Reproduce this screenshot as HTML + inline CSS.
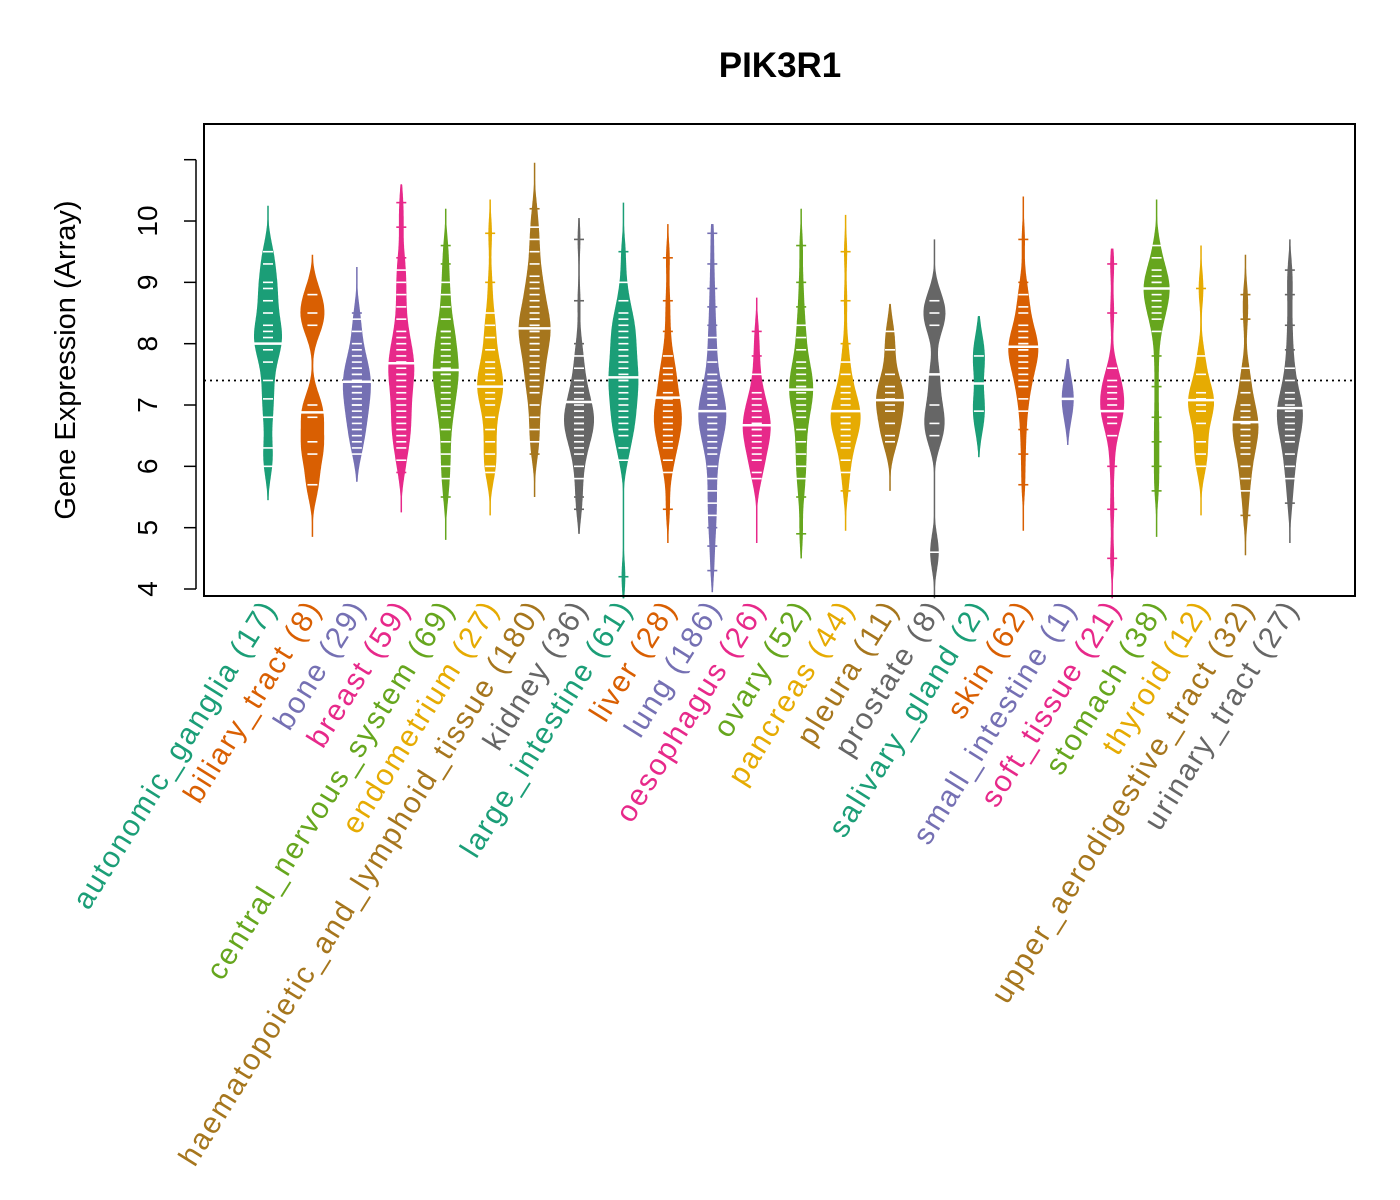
<!DOCTYPE html>
<html><head><meta charset="utf-8"><style>
body{margin:0;background:#fff}
svg{display:block;font-family:"Liberation Sans",Arial,sans-serif}
</style></head><body>
<svg id="chart" width="1400" height="1200" viewBox="0 0 1400 1200" xmlns="http://www.w3.org/2000/svg">
<rect x="0" y="0" width="1400" height="1200" fill="#fff"/>
<text x="780" y="77" font-size="35" font-weight="bold" text-anchor="middle">PIK3R1</text>
<text transform="translate(75,360) rotate(-90)" font-size="29" text-anchor="middle">Gene Expression (Array)</text>
<g id="beans"></g>
<g id="yaxis"></g>
<g id="xlabels"></g>
<rect x="204" y="124" width="1151" height="472" fill="none" stroke="#000" stroke-width="2"/>
</svg>
<script>
const categories=["autonomic_ganglia","biliary_tract","bone","breast","central_nervous_system","endometrium","haematopoietic_and_lymphoid_tissue","kidney","large_intestine","liver","lung","oesophagus","ovary","pancreas","pleura","prostate","salivary_gland","skin","small_intestine","soft_tissue","stomach","thyroid","upper_aerodigestive_tract","urinary_tract"];
const counts=[17,8,29,59,69,27,180,36,61,28,186,26,52,44,11,8,2,62,1,21,38,12,32,27];
const medians=[8.0,6.88,7.38,7.68,7.57,7.3,8.25,7.05,7.45,7.12,6.9,6.67,7.25,6.9,7.08,7.5,7.35,7.95,7.1,6.9,8.9,7.08,6.72,6.95];
const tailMin=[5.45,4.85,5.75,5.25,4.8,5.2,5.5,4.9,3.85,4.75,3.95,4.75,4.5,4.95,5.6,3.85,6.15,4.95,6.35,3.85,4.85,5.2,4.55,4.75];
const tailMax=[10.25,9.45,9.25,10.6,10.2,10.35,10.95,10.05,10.3,9.95,9.95,8.75,10.2,10.1,8.65,9.7,8.45,10.4,7.75,9.55,10.35,9.6,9.45,9.7];
const samples=[
[9.5,9.3,9.0,8.9,8.7,8.5,8.3,8.2,8.1,8.0,7.9,7.7,7.4,7.1,6.8,6.3,6.0],
[8.8,8.5,8.3,7.0,6.8,6.4,6.2,5.7],
[8.5,8.4,8.2,8.0,7.9,7.8,7.7,7.6,7.5,7.5,7.4,7.4,7.3,7.3,7.2,7.2,7.1,7.0,7.0,6.9,6.8,6.8,6.7,6.6,6.5,6.4,6.3,6.2,7.6],
[10.3,9.9,9.4,9.2,9.0,8.8,8.6,8.4,8.2,8.0,7.9,7.8,7.7,7.6,7.5,7.4,7.3,7.2,7.1,7.0,6.9,6.8,6.7,6.6,6.5,6.4,6.3,6.1,5.9,7.7,7.5,8.1],
[9.6,9.3,9.0,8.8,8.6,8.4,8.2,8.1,8.0,7.9,7.8,7.7,7.6,7.5,7.4,7.3,7.2,7.1,7.0,6.9,6.8,6.6,6.4,6.2,6.0,5.8,5.5,7.6,7.5,8.2],
[9.8,9.0,8.5,8.3,8.1,7.9,7.7,7.6,7.5,7.4,7.3,7.2,7.1,7.0,6.8,6.6,6.4,6.2,6.0,5.9,7.3],
[10.2,9.9,9.7,9.5,9.3,9.1,9.0,8.9,8.8,8.7,8.6,8.5,8.4,8.3,8.3,8.2,8.2,8.1,8.0,7.9,7.8,7.7,7.6,7.5,7.4,7.3,7.2,7.0,6.8,6.6,6.4,6.2,8.4,8.0],
[9.7,8.7,8.0,7.8,7.6,7.4,7.3,7.2,7.1,7.0,6.9,6.9,6.8,6.7,6.6,6.6,6.5,6.4,6.3,6.2,6.0,5.8,5.5,5.3,6.7,6.8],
[9.5,9.0,8.7,8.5,8.4,8.3,8.2,8.0,7.9,7.8,7.7,7.6,7.5,7.4,7.3,7.2,7.1,7.0,6.9,6.8,6.7,6.6,6.5,6.3,6.1,4.2,7.4,8.1],
[9.4,8.7,8.2,7.8,7.6,7.5,7.4,7.2,7.1,7.0,6.9,6.8,6.7,6.6,6.5,6.4,6.3,6.1,5.9,5.3,6.8],
[9.8,9.3,8.9,8.6,8.3,8.1,7.9,7.7,7.5,7.4,7.3,7.2,7.1,7.0,6.9,6.9,6.8,6.7,6.6,6.5,6.4,6.3,6.2,6.0,5.8,5.6,5.4,5.2,5.0,4.7,4.3,6.8,7.0,6.6],
[8.2,7.8,7.5,7.2,7.1,7.0,6.9,6.8,6.7,6.6,6.5,6.4,6.3,6.2,6.1,5.9,5.8,6.6,6.7],
[9.6,9.0,8.6,8.3,8.1,7.9,7.7,7.6,7.5,7.4,7.3,7.2,7.1,7.0,6.9,6.8,6.6,6.4,6.2,6.0,5.8,5.5,4.9,7.3],
[9.5,8.7,8.0,7.7,7.5,7.3,7.2,7.1,7.0,6.9,6.8,6.8,6.7,6.6,6.5,6.4,6.3,6.1,5.9,5.6,6.9,6.7],
[8.2,7.9,7.5,7.3,7.2,7.1,7.0,6.9,6.7,6.5,6.4],
[8.7,8.5,8.3,7.5,7.0,6.7,6.5,4.6],
[7.8,6.9],
[9.7,9.0,8.8,8.6,8.5,8.3,8.2,8.1,8.0,7.9,7.9,7.8,7.7,7.6,7.5,7.4,7.3,7.1,6.9,6.6,6.2,5.7,8.0,7.9],
[7.1],
[9.3,8.5,7.6,7.4,7.3,7.2,7.1,7.0,6.9,6.8,6.7,6.5,6.0,5.3,4.5],
[9.6,9.4,9.2,9.1,9.0,8.9,8.8,8.7,8.6,8.5,8.4,8.2,7.8,7.3,6.8,6.4,6.0,5.6,9.0,8.9],
[8.9,7.8,7.5,7.2,7.1,7.0,6.9,6.7,6.4,6.2,6.0,7.1],
[8.8,8.4,7.6,7.4,7.2,7.0,6.9,6.8,6.7,6.6,6.5,6.4,6.3,6.2,6.0,5.8,5.6,5.2,6.7],
[9.2,8.8,8.3,7.9,7.6,7.4,7.2,7.1,7.0,6.9,6.8,6.7,6.6,6.5,6.4,6.2,6.0,5.8,5.4,6.9]
];
const peakW=[14,12,14,13,13,13,16,15,15,14,14,14,12,15,14,11,6,15,6,12,13,13,13,13];
const yTicks=[4,5,6,7,8,9,10,11];
const yTickLabels=["4","5","6","7","8","9","10",""];
const overallMean=7.4;

const pal=["#1B9E77","#D95F02","#7570B3","#E7298A","#66A61E","#E6AB02","#A6761D","#666666"];
const NS="http://www.w3.org/2000/svg";
function yS(v){return 589-(v-4)*61.33;}
function xS(i){return 268+i*44.43;}
function mk(tag,attrs,parent){const e=document.createElementNS(NS,tag);for(const k in attrs)e.setAttribute(k,attrs[k]);parent.appendChild(e);return e;}
const beans=document.getElementById('beans');
const yaxis=document.getElementById('yaxis');
const xl=document.getElementById('xlabels');

const ax=mk('line',{x1:196,x2:196,y1:yS(4),y2:yS(11),stroke:'#000','stroke-width':1.5},yaxis);


yTicks.forEach((t,k)=>{
  const tk=mk('line',{x1:184,x2:196,y1:yS(t),y2:yS(t),stroke:'#000','stroke-width':1.5},yaxis);
  
  
  if(yTickLabels[k]){
    const tl=mk('text',{transform:`translate(157,${yS(t)}) rotate(-90)`,'font-size':28,'text-anchor':'middle'},yaxis);
    tl.textContent=yTickLabels[k];
    
    
  }
});

const ml=mk('line',{x1:204,x2:1355,y1:yS(overallMean),y2:yS(overallMean),stroke:'#000','stroke-width':1.8,'stroke-dasharray':'2,4'},beans);



categories.forEach((c,i)=>{
  const col=pal[i%8], cx=xS(i), vals=samples[i];
  const g=mk('g',{},beans);
  
  
  const tail=mk('line',{x1:cx,x2:cx,y1:yS(tailMin[i]),y2:yS(tailMax[i]),stroke:col,'stroke-width':1.5},g);
  
  
  const bw=vals.length<5?0.35:0.28;
  const lo=Math.max(tailMin[i],Math.min(...vals)-0.8), hi=Math.min(tailMax[i],Math.max(...vals)+0.8);
  const dens=v=>vals.reduce((s,x)=>s+Math.exp(-0.5*((v-x)/bw)**2),0);
  const pts=[];let pk=0;
  for(let v=lo;v<=hi+1e-9;v+=0.02){const d=dens(v);pts.push([v,d]);if(d>pk)pk=d;}
  const L=[],R=[];
  pts.forEach(([v,d])=>{const hw=d/pk*peakW[i];L.push(`${(cx-hw).toFixed(1)},${yS(v).toFixed(1)}`);R.unshift(`${(cx+hw).toFixed(1)},${yS(v).toFixed(1)}`);});
  const poly=mk('polygon',{points:L.concat(R).join(' '),fill:col},g);
  
  
  vals.forEach(v=>{
    const hw=dens(v)/pk*peakW[i];
    const inside=hw>4;
    const ln=mk('line',{x1:cx-5,x2:cx+5,y1:yS(v),y2:yS(v),stroke:inside?'#fff':col,'stroke-width':1.6},g);
    
    
  });
  const md=mk('line',{x1:cx-16,x2:cx+16,y1:yS(medians[i]),y2:yS(medians[i]),stroke:'#fff','stroke-width':2.5},g);
  
  
  const t=mk('text',{transform:`translate(${cx+10},${608}) rotate(-58)`,'font-size':30,'letter-spacing':2,'text-anchor':'end',fill:col},xl);
  t.textContent=`${c} (${counts[i]})`;
  
  
});
</script>
</body></html>
